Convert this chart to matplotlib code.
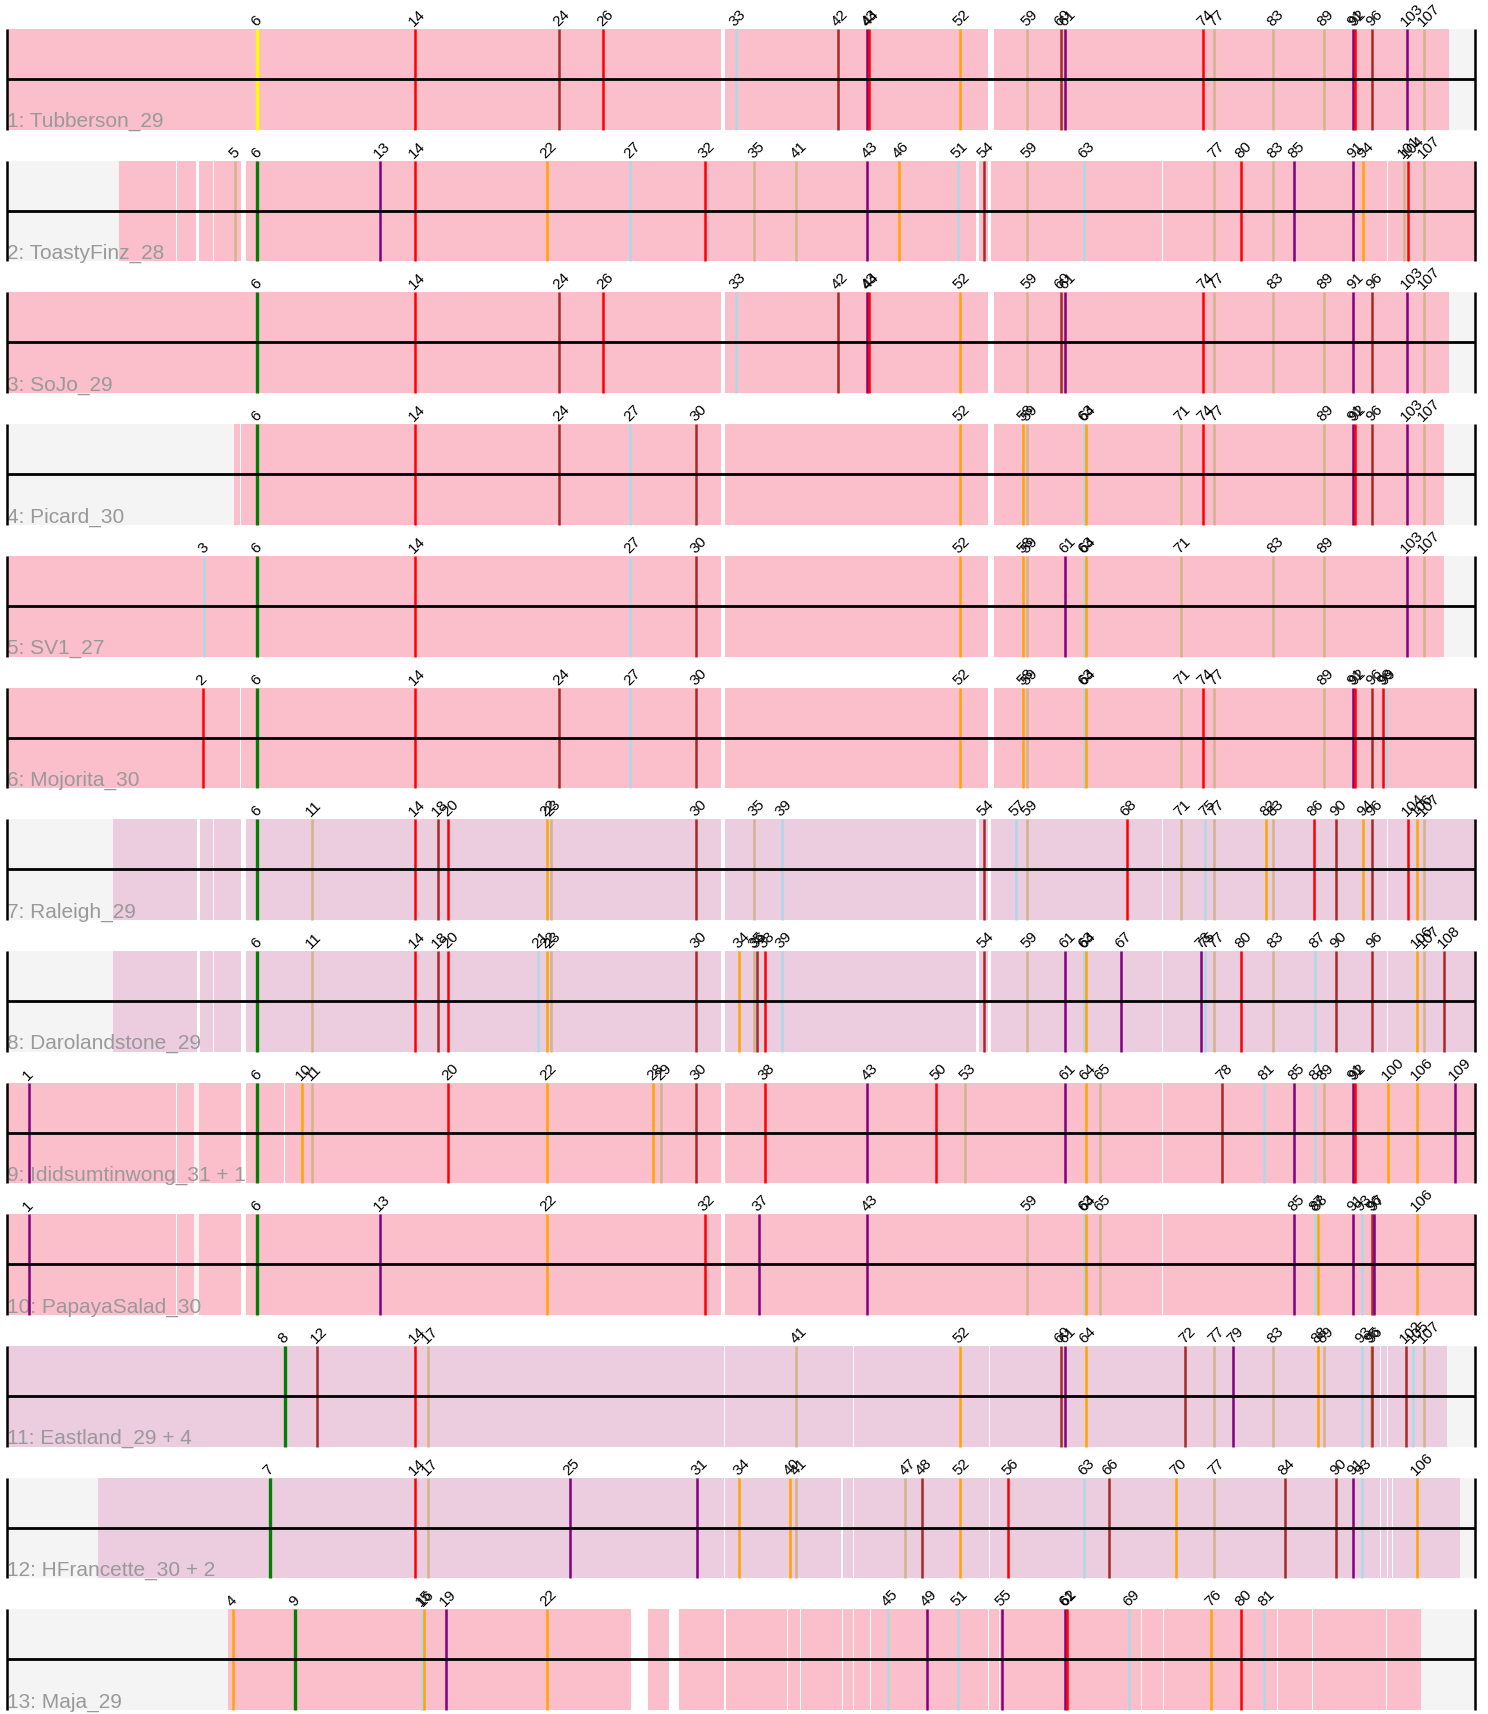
import matplotlib.pyplot as plt

# marker positions along the track (pixel-like units)
pos = {
    1: 28.5, 2: 202.7, 3: 204.0, 4: 233.0, 5: 235.4, 6: 257.2, 7: 269.6, 8: 284.8,
    9: 295.2, 10: 301.8, 11: 312.3, 12: 316.6, 13: 379.7, 14: 415.3, 15: 422.0,
    16: 424.0, 17: 427.6, 18: 437.6, 19: 446.0, 20: 448.0, 21: 538.2, 22: 546.7,
    23: 550.5, 24: 559.0, 25: 569.5, 26: 602.8, 27: 629.8, 28: 653.0, 29: 661.1,
    30: 696.2, 31: 697.0, 32: 704.8, 33: 735.6, 34: 739.4, 35: 754.4, 36: 756.5,
    37: 758.7, 38: 764.9, 39: 781.5, 40: 790.0, 41: 796.2, 42: 838.0, 43: 867.4,
    44: 868.8, 45: 887.8, 46: 898.7, 47: 905.4, 48: 921.5, 49: 927.0, 50: 936.2,
    51: 957.6, 52: 959.5, 53: 965.2, 54: 983.7, 55: 1001.5, 56: 1008.4, 57: 1015.5,
    58: 1023.0, 59: 1027.3, 60: 1060.6, 61: 1065.0, 62: 1066.5, 63: 1083.8,
    64: 1085.7, 65: 1100.4, 66: 1108.5, 67: 1121.3, 68: 1126.5, 69: 1129.4,
    70: 1175.9, 71: 1180.6, 72: 1185.4, 73: 1201.0, 74: 1203.4, 75: 1205.3,
    76: 1211.4, 77: 1213.9, 78: 1222.4, 79: 1232.8, 80: 1240.9, 81: 1264.2,
    82: 1266.0, 83: 1273.2, 84: 1284.6, 85: 1294.0, 86: 1313.5, 87: 1315.4,
    88: 1317.8, 89: 1323.5, 90: 1336.3, 91: 1353.4, 92: 1355.3, 93: 1361.5,
    94: 1363.4, 95: 1370.5, 96: 1371.9, 97: 1373.8, 98: 1383.3, 99: 1385.7,
    100: 1388.0, 101: 1403.7, 102: 1405.5, 103: 1406.5, 104: 1408.0, 105: 1413.0,
    106: 1417.0, 107: 1423.6, 108: 1444.0, 109: 1454.5,
}

names = ["1: Tubberson_29", "2: ToastyFinz_28", "3: SoJo_29", "4: Picard_30",
         "5: SV1_27", "6: Mojorita_30", "7: Raleigh_29", "8: Darolandstone_29",
         "9: Ididsumtinwong_31 + 1", "10: PapayaSalad_30", "11: Eastland_29 + 4",
         "12: HFrancette_30 + 2", "13: Maja_29"]

anchors = [6, 6, 6, 6, 6, 6, 6, 6, 6, 6, 8, 7, 9]

markers = [
    [6, 14, 24, 26, 33, 42, 43, 44, 52, 59, 60, 61, 74, 77, 83, 89, 91, 92, 96, 103, 107],
    [5, 6, 13, 14, 22, 27, 32, 35, 41, 43, 46, 51, 54, 59, 63, 77, 80, 83, 85, 91, 94, 101, 104, 107],
    [6, 14, 24, 26, 33, 42, 43, 44, 52, 59, 60, 61, 74, 77, 83, 89, 91, 96, 103, 107],
    [6, 14, 24, 27, 30, 52, 58, 59, 63, 64, 71, 74, 77, 89, 91, 92, 96, 103, 107],
    [3, 6, 14, 27, 30, 52, 58, 59, 61, 63, 64, 71, 83, 89, 103, 107],
    [2, 6, 14, 24, 27, 30, 52, 58, 59, 63, 64, 71, 74, 77, 89, 91, 92, 96, 98, 99],
    [6, 11, 14, 18, 20, 22, 23, 30, 35, 39, 54, 57, 59, 68, 71, 75, 77, 82, 83, 86, 90, 94, 96, 104, 106, 107],
    [6, 11, 14, 18, 20, 21, 22, 23, 30, 34, 35, 36, 38, 39, 54, 59, 61, 63, 64, 67, 73, 75, 77, 80, 83, 87, 90, 96, 106, 107, 108],
    [1, 6, 10, 11, 20, 22, 28, 29, 30, 38, 43, 50, 53, 61, 64, 65, 78, 81, 85, 87, 89, 91, 92, 100, 106, 109],
    [1, 6, 13, 22, 32, 37, 43, 59, 63, 64, 65, 85, 87, 88, 91, 93, 96, 97, 106],
    [8, 12, 14, 17, 41, 52, 60, 61, 64, 72, 77, 79, 83, 88, 89, 93, 95, 96, 102, 105, 107],
    [7, 14, 17, 25, 31, 34, 40, 41, 47, 48, 52, 56, 63, 66, 70, 77, 84, 90, 91, 93, 106],
    [4, 9, 15, 16, 19, 22, 45, 49, 51, 55, 61, 62, 69, 76, 80, 81],
]

# background blocks per row: (start, end, kind)  p = pink, l = lavender, g = grey
blocks = [
    [(7, 721, "p"), (725, 987.5, "p"), (994, 1449, "p"), (1449, 1475, "g")],
    [(7, 118.6, "g"), (118.6, 176, "p"), (177, 196, "p"), (199, 213, "p"), (214, 241, "p"),
     (246, 975.6, "p"), (979, 987.5, "p"), (991, 1162, "p"), (1163, 1387, "p"), (1388, 1475, "p")],
    [(7, 721, "p"), (725, 987.5, "p"), (994, 1449, "p"), (1449, 1475, "g")],
    [(7, 234, "g"), (234, 240, "p"), (241, 721, "p"), (725, 987.5, "p"), (994, 1443.6, "p"),
     (1443.6, 1475, "g")],
    [(7, 721, "p"), (725, 987.5, "p"), (994, 1443.6, "p"), (1443.6, 1475, "g")],
    [(7, 240, "p"), (241, 721, "p"), (725, 987.5, "p"), (994, 1475, "p")],
    [(7, 112.5, "g"), (112.5, 197, "l"), (199.5, 213, "l"), (214, 241, "l"), (246, 721, "l"),
     (725, 975.6, "l"), (979, 987.5, "l"), (991, 1162, "l"), (1163, 1387, "l"), (1388, 1475, "l")],
    [(7, 112.5, "g"), (112.5, 197, "l"), (199.5, 213, "l"), (214, 241, "l"), (246, 721, "l"),
     (725, 975.6, "l"), (979, 987.5, "l"), (991, 1162, "l"), (1163, 1387, "l"), (1388, 1475, "l")],
    [(7, 176, "p"), (177, 194, "p"), (194, 199, "g"), (199, 241, "p"), (246, 284, "p"),
     (285, 721, "p"), (725, 1162, "p"), (1163, 1475, "p")],
    [(7, 176, "p"), (177, 194, "p"), (194, 199, "g"), (199, 241, "p"), (246, 721, "p"),
     (725, 1162, "p"), (1163, 1475, "p")],
    [(7, 724, "l"), (725, 853, "l"), (854, 988.5, "l"), (989.5, 1380, "l"), (1381, 1387, "l"),
     (1388, 1447, "l"), (1447, 1475, "g")],
    [(7, 98, "g"), (98, 724, "l"), (725, 841, "l"), (842.5, 853, "l"), (854, 988.5, "l"),
     (989.5, 1380, "l"), (1381, 1387, "l"), (1388, 1392, "l"), (1393, 1460, "l"), (1460, 1475, "g")],
    [(7, 228, "g"), (228, 631, "p"), (648, 669, "p"), (679, 724, "p"), (725.5, 787, "p"),
     (788, 800, "p"), (801, 842, "p"), (843, 853, "p"), (854, 870, "p"), (871, 988, "p"),
     (989, 999, "p"), (1000, 1141, "p"), (1142, 1163, "p"), (1164, 1277, "p"), (1278, 1312, "p"),
     (1313, 1386, "p"), (1387, 1421, "p"), (1421, 1475, "g")],
]

fill = {"p": "#fbbfcb", "l": "#ecccdf", "g": "#f4f4f4"}
cycle = ["#a52a2a", "#800080", "#ff0000", "#add8e6", "#ffa500", "#d2b48c"]

fig = plt.figure(figsize=(14.88, 17.14), dpi=100)
ax = fig.add_axes([0, 0, 1, 1])
ax.set_xlim(0, 1488)
ax.set_ylim(1714, 0)
ax.axis("off")

x0, x1 = 7, 1475
pitch = 131.7
height = 100.7

for i in range(len(names)):
    top = 29 + i * pitch
    bot = top + height
    mid = top + 50
    for kind in "glp":
        segs = [(a, b - a) for a, b, k in blocks[i] if k == kind]
        if segs:
            ax.broken_barh(segs, (top, height), facecolors=fill[kind], zorder=1)
    ax.text(x0, bot - 2.5, names[i], color="#999999", fontsize=15,
            family="Liberation Sans", ha="left", va="baseline", zorder=2)
    for n in markers[i]:
        if n == anchors[i]:
            col = "#ffff00" if i == 0 else "#008000"
            lw = 2.4
        else:
            col = cycle[n % 6]
            lw = 1.8
        ax.vlines(pos[n], top, bot, colors=col, lw=lw, zorder=3)
        ax.text(pos[n] - 1, top - 2, str(n), rotation=45, rotation_mode="anchor",
                ha="left", va="baseline", fontsize=11, family="Liberation Sans", zorder=4)
    ax.hlines(mid, x0, x1, colors="black", lw=2.0, zorder=5)
    ax.vlines([x0, x1], top, bot, colors="black", lw=1.8, zorder=5)

fig.savefig("out.png", dpi=100)
